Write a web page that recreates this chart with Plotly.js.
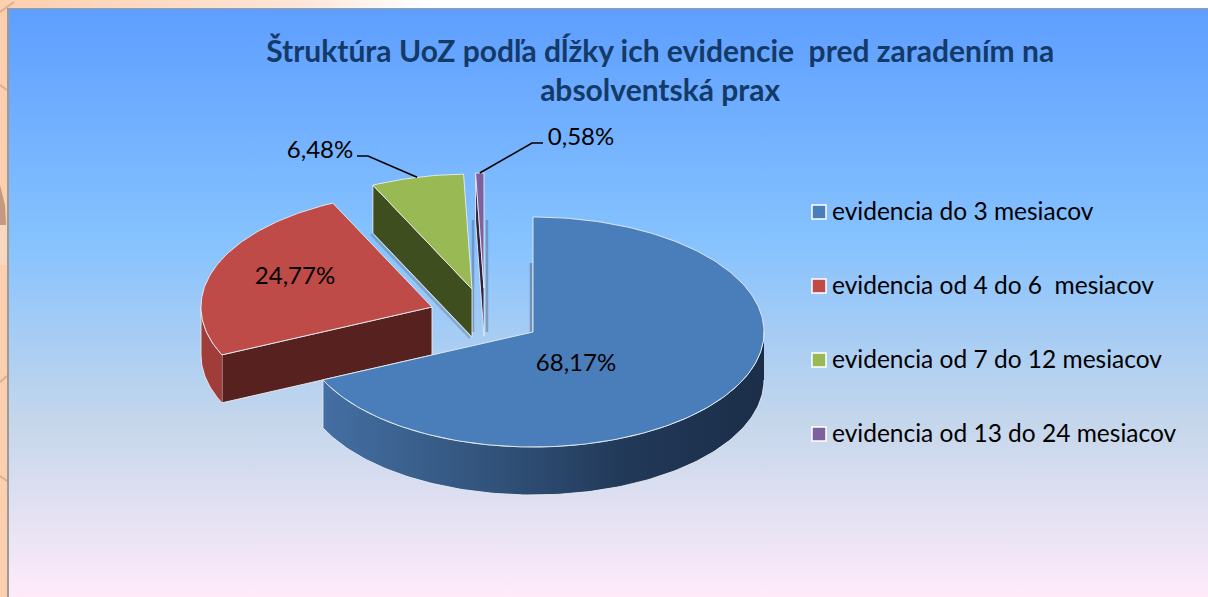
<!DOCTYPE html>
<html><head><meta charset="utf-8">
<script src="https://cdn.plot.ly/plotly-3.0.1.min.js"></script>
<style>
html,body{margin:0;padding:0;width:1208px;height:597px;overflow:hidden;background:#fdcfae}
#top{position:absolute;left:0;top:0;width:1208px;height:8px;background:linear-gradient(90deg,#fdcfae 0%,#fee6d8 25%,#ffffff 35%)}
#panel{position:absolute;left:7px;top:8px;width:1201px;height:589px;box-sizing:border-box;border-left:2px solid #9a9a98;border-top:1px solid #a09c98;
background:linear-gradient(180deg,#5e9eff 0%,#85c2ff 39%,#c4d6eb 70%,#ffebfa 100%)}
#chart{position:absolute;left:0;top:0;width:1208px;height:597px}
</style></head><body>
<div id="top"></div><div id="panel"></div><div id="chart"></div>
<script>
const categories=['evidencia do 3 mesiacov','evidencia od 4 do 6  mesiacov','evidencia od 7 do 12 mesiacov','evidencia od 13 do 24 mesiacov'];
const values=[68.17,24.77,6.48,0.58];
const titleText='Štruktúra UoZ podľa dĺžky ich evidencie  pred zaradením na<br>absolventská prax';
const faceColors=['#4a7ebb','#be4b48','#98b954','#7d60a0'];
const sideColors=['#1f3553','#56211f','#3f4e1e','#2e2340'];
const apexX=[533,432,472,484];
const apexY=[332,307,289,288];
const labelX=[576,295,320,581];
const labelY=[365,278,152,139];
const legendY=[212,286,360,434];
const legendTextY=[214,288,362,436];

const RX=231,RY=115,DEPTH=48,EDGE='rgba(232,236,240,0.9)',FONT='Lato, sans-serif';
const total=values.reduce((a,b)=>a+b,0);
let c=0;const startA=[],endA=[];
values.forEach(v=>{startA.push(c/total*2*Math.PI);c+=v;endA.push(c/total*2*Math.PI);});
const px=(i,t)=>apexX[i]+RX*Math.sin(t), py=(i,t)=>apexY[i]-RY*Math.cos(t);
function arc(a,b){const n=Math.max(2,Math.ceil(Math.abs(b-a)/0.02)),r=[];for(let k=0;k<=n;k++)r.push(a+(b-a)*k/n);return r;}
const traces=[];
function poly(xs,ys,color,extra){traces.push(Object.assign({type:'scatter',mode:'lines',x:xs,y:ys,fill:'toself',fillcolor:color,line:{color:EDGE,width:1},showlegend:false,hoverinfo:'skip'},extra||{}));}
function seg(xs,ys,color,w){traces.push({type:'scatter',mode:'lines',x:xs,y:ys,line:{color:color,width:w},showlegend:false,hoverinfo:'skip'});}

// soft shadows behind the exploded slices
seg([apexX[0]-2,apexX[0]-2],[apexY[0]-69,apexY[0]],'rgba(80,100,130,0.55)',2.5);
seg([apexX[3]-11,apexX[3]-11],[apexY[3]-68,apexY[3]+44],'rgba(80,100,130,0.45)',2.5);
seg([apexX[3]+3,apexX[3]+3],[apexY[3]-68,apexY[3]+44],'rgba(80,100,130,0.45)',2.5);
seg([px(2,startA[2])-2,apexX[2]-2],[py(2,startA[2])+DEPTH+1,apexY[2]+DEPTH+1],'rgba(80,100,130,0.35)',2.5);

// purple, green, red, blue back to front
[3,2,1,0].forEach(i=>{
  const a=startA[i],b=endA[i];
  if(i>0){ // radial face at the start angle
    poly([apexX[i],px(i,a),px(i,a),apexX[i],apexX[i]],[apexY[i],py(i,a),py(i,a)+DEPTH,apexY[i]+DEPTH,apexY[i]],sideColors[i]);
  }
  if(i===1){ // short outer wall on the left
    const t=arc(a,1.5*Math.PI);
    const xs=t.map(v=>px(i,v)),ys=t.map(v=>py(i,v));
    poly(xs.concat(xs.slice().reverse()),ys.concat(ys.map(v=>v+DEPTH).reverse()),'#a03d3b');
  }
  if(i===0){ // long outer wall with light falloff
    const t=arc(Math.PI/2,b);
    const xs=t.map(v=>px(i,v)),ys=t.map(v=>py(i,v));
    poly(xs.concat(xs.slice().reverse()),ys.concat(ys.map(v=>v+DEPTH).reverse()),'#2f5078',
      {fillgradient:{type:'horizontal',colorscale:[[0,'#446fa3'],[0.35,'#33557e'],[0.7,'#213857'],[1,'#1b2e49']]}});
  }
  const t=arc(a,b);
  poly([apexX[i]].concat(t.map(v=>px(i,v)),[apexX[i]]),[apexY[i]].concat(t.map(v=>py(i,v)),[apexY[i]]),faceColors[i]);
});

// leader lines from each small slice's arc midpoint
const mid2=(startA[2]+endA[2])/2,mid3=(startA[3]+endA[3])/2;
seg([357,368,px(2,mid2)],[156,156,py(2,mid2)],'#000',1.6);
seg([543,532,px(3,mid3)],[143,143,py(3,mid3)],'#000',1.6);

// value labels
traces.push({type:'scatter',mode:'text',x:labelX,y:labelY,text:values.map(v=>v.toFixed(2).replace('.',',')+'%'),textposition:'middle center',textfont:{family:FONT,size:24,color:'#000'},showlegend:false,hoverinfo:'skip'});
// legend
traces.push({type:'scatter',mode:'markers',x:categories.map(()=>819),y:legendY,marker:{symbol:'square',size:14,color:faceColors,line:{color:'#ffffff',width:1.5}},showlegend:false,hoverinfo:'skip'});
traces.push({type:'scatter',mode:'text',x:categories.map(()=>832),y:legendTextY,text:categories,textposition:'middle right',textfont:{family:FONT,size:24.5,color:'#000'},showlegend:false,hoverinfo:'skip'});

// worn background texture on the frame strip
const tan='rgba(185,150,125,0.55)';
const strokes=[[0,12,14,2],[0,85,7,90],[0,382,7,376],[0,476,7,481]].map(s=>({type:'line',x0:s[0],y0:s[1],x1:s[2],y1:s[3],line:{color:tan,width:2}}));
strokes.push({type:'path',path:'M0,185 L5,205 L6,225 L0,225 Z',fillcolor:'rgba(180,140,115,0.8)',line:{width:0}});
strokes.push({type:'rect',x0:0,x1:6.5,y0:225,y1:265,fillcolor:'rgba(245,220,200,0.7)',line:{width:0}});

const layout={width:1208,height:597,margin:{l:0,r:0,t:0,b:0},paper_bgcolor:'rgba(0,0,0,0)',plot_bgcolor:'rgba(0,0,0,0)',showlegend:false,shapes:strokes,
 xaxis:{range:[0,1208],visible:false,fixedrange:true},yaxis:{range:[597,0],visible:false,fixedrange:true},
 title:{text:'<b>'+titleText+'</b>',x:0.5465,xanchor:'center',y:0.896,yanchor:'middle',font:{family:FONT,size:30,color:'#143a68'}}};
Plotly.newPlot('chart',traces,layout,{displayModeBar:false,staticPlot:true});
</script></body></html>
